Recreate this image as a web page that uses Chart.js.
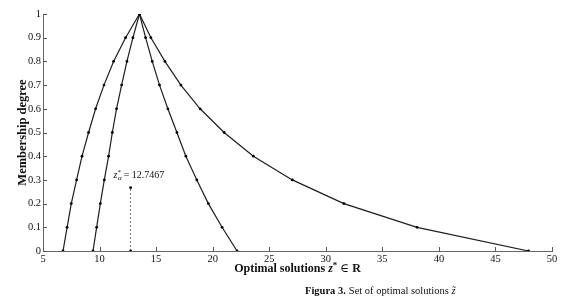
<!DOCTYPE html>
<html>
<head>
<meta charset="utf-8">
<script src="https://cdn.jsdelivr.net/npm/chart.js@4/dist/chart.umd.min.js"></script>
<style>
  html, body { margin: 0; padding: 0; background: #fff; }
  #wrap { width: 580px; height: 308px; }
</style>
</head>
<body>
<div id="wrap"><canvas id="membershipChart" width="580" height="308"></canvas></div>
<script>
// membership levels (alpha cuts) and the z values
const levels = [0, 0.1, 0.2, 0.3, 0.4, 0.5, 0.6, 0.7, 0.8, 0.9, 1];
const outerLeftZ = [6.77, 7.13, 7.5, 7.97, 8.45, 9.03, 9.65, 10.39, 11.24, 12.3, 13.53];
const innerLeftZ = [9.42, 9.74, 10.07, 10.42, 10.8, 11.13, 11.5, 11.95, 12.42, 12.95, 13.53];
const innerRightZ = [22.16, 20.83, 19.62, 18.6, 17.63, 16.84, 16.04, 15.3, 14.66, 14.07, 13.53];
const outerRightZ = [47.93, 38.07, 31.6, 27.04, 23.6, 21.01, 18.89, 17.19, 15.78, 14.54, 13.53];
const zAlpha = 12.7467;
const zAlphaLevels = [0, 0.267];
const xTicks = [5, 10, 15, 20, 25, 30, 35, 40, 45, 50];
const yTicks = [0, 0.1, 0.2, 0.3, 0.4, 0.5, 0.6, 0.7, 0.8, 0.9, 1];

const SERIF = '"Liberation Serif", "DejaVu Serif", serif';

function toPoints(zs, ys) {
    return zs.map((z, i) => ({ x: z, y: ys[i] }));
}

function curve(zs) {
    return {
        data: toPoints(zs, levels),
        showLine: true,
        borderColor: '#1e1e1e',
        borderWidth: 1.2,
        pointRadius: 1.4,
        pointBackgroundColor: '#000',
        pointBorderWidth: 0,
        tension: 0
    };
}

// draw runs of text with different fonts, starting at x
function drawRuns(ctx, runs, x, y) {
    runs.forEach(r => {
        ctx.font = r.font;
        ctx.fillText(r.text, x, y + (r.dy || 0));
        x += ctx.measureText(r.text).width + (r.gap || 0);
    });
    return x;
}

function runsWidth(ctx, runs) {
    let w = 0;
    runs.forEach(r => { ctx.font = r.font; w += ctx.measureText(r.text).width + (r.gap || 0); });
    return w;
}

// ticks pointing into the plot, plus titles and caption
const decorations = {
    id: 'decorations',
    afterDraw(chart) {
        const ctx = chart.ctx;
        const xs = chart.scales.x, ys = chart.scales.y;
        const area = chart.chartArea;
        ctx.save();
        ctx.strokeStyle = '#555';
        ctx.lineWidth = 1;
        ctx.beginPath();
        xTicks.forEach(v => {
            const px = Math.round(xs.getPixelForValue(v)) + 0.5;
            ctx.moveTo(px, area.bottom);
            ctx.lineTo(px, area.bottom - 4);
        });
        yTicks.forEach(v => {
            const py = Math.round(ys.getPixelForValue(v)) + 0.5;
            ctx.moveTo(area.left, py);
            ctx.lineTo(area.left + 4, py);
        });
        ctx.stroke();

        ctx.fillStyle = '#111';
        ctx.textBaseline = 'alphabetic';
        ctx.textAlign = 'left';

        // x axis title
        const xRuns = [
            { text: 'Optimal solutions ', font: 'bold 12px ' + SERIF },
            { text: 'z', font: 'bold italic 12px ' + SERIF },
            { text: '*', font: 'bold 9px ' + SERIF, dy: -4, gap: 3 },
            { text: '\u2208 ', font: '12px ' + SERIF },
            { text: 'R', font: 'bold 12px ' + SERIF }
        ];
        const xw = runsWidth(ctx, xRuns);
        drawRuns(ctx, xRuns, (area.left + area.right) / 2 - xw / 2, 272);

        // y axis title
        ctx.save();
        ctx.translate(26, (area.top + area.bottom) / 2);
        ctx.rotate(-Math.PI / 2);
        ctx.textAlign = 'center';
        ctx.font = 'bold 12.5px ' + SERIF;
        ctx.fillText('Membership degree', 0, 0);
        ctx.restore();

        // label above the dashed marker
        const lx = xs.getPixelForValue(zAlpha) - 17;
        const ly = ys.getPixelForValue(zAlphaLevels[1]) - 10;
        const aRuns = [
            { text: 'z', font: 'italic 10px ' + SERIF },
            { text: '*', font: '7px ' + SERIF, dy: -4, gap: -3 },
            { text: '\u03b1', font: 'italic 7px ' + SERIF, dy: 2, gap: 2 },
            { text: '= 12.7467', font: '10px ' + SERIF }
        ];
        drawRuns(ctx, aRuns, lx, ly);

        // figure caption
        const cRuns = [
            { text: 'Figura 3.', font: 'bold 10.5px ' + SERIF, gap: 3 },
            { text: 'Set of optimal solutions ', font: '10.5px ' + SERIF },
            { text: 'z\u0303', font: 'italic 10.5px ' + SERIF }
        ];
        drawRuns(ctx, cRuns, 305, 294);
        ctx.restore();
    }
};

const ctx = document.getElementById('membershipChart').getContext('2d');
new Chart(ctx, {
    type: 'scatter',
    data: {
        datasets: [
            curve(outerLeftZ),
            curve(innerLeftZ),
            curve(innerRightZ),
            curve(outerRightZ),
            {
                data: toPoints([zAlpha, zAlpha], zAlphaLevels),
                showLine: true,
                borderColor: '#555',
                borderWidth: 0.8,
                borderDash: [2, 2],
                pointRadius: 1.4,
                pointBackgroundColor: '#000',
                pointBorderWidth: 0
            }
        ]
    },
    options: {
        responsive: false,
        animation: false,
        events: [],
        layout: { padding: { left: 0, top: 14, right: 28, bottom: 0 } },
        plugins: { legend: { display: false }, tooltip: { enabled: false } },
        scales: {
            x: {
                type: 'linear',
                min: 5,
                max: 50,
                afterBuildTicks: s => { s.ticks = xTicks.map(v => ({ value: v })); },
                afterFit: s => { s.height = 57; },
                border: { display: true, color: '#666', width: 1 },
                grid: { display: false, drawTicks: false },
                ticks: {
                    padding: 2,
                    color: '#111',
                    font: { family: SERIF, size: 10.5 },
                    maxRotation: 0
                }
            },
            y: {
                type: 'linear',
                min: 0,
                max: 1,
                afterBuildTicks: s => { s.ticks = yTicks.map(v => ({ value: v })); },
                afterFit: s => { s.width = 43; },
                border: { display: true, color: '#666', width: 1 },
                grid: { display: false, drawTicks: false },
                ticks: {
                    padding: 2,
                    color: '#111',
                    font: { family: SERIF, size: 10.5 },
                    callback: v => String(Math.round(v * 10) / 10)
                }
            }
        }
    },
    plugins: [decorations]
});
</script>
</body>
</html>
